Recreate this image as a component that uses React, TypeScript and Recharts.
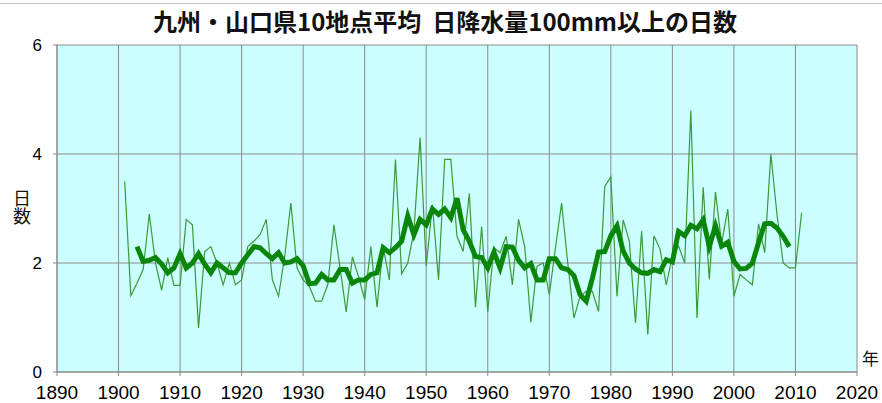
import { CartesianGrid, Line, LineChart, XAxis, YAxis } from "recharts";

const years: number[] = [];
for (let y = 1901; y <= 2011; y++) years.push(y);

// annual count, 1901-2011
const annual = [
  3.5, 1.4, 1.63, 1.88, 2.9, 2.0, 1.5, 2.1, 1.59, 1.59,
  2.8, 2.7, 0.81, 2.21, 2.3, 2.0, 1.6, 2.0, 1.6, 1.69,
  2.3, 2.4, 2.52, 2.8, 1.69, 1.39, 2.12, 3.1, 1.91, 1.69,
  1.57, 1.3, 1.3, 1.6, 2.7, 1.91, 1.1, 2.11, 1.75, 1.33,
  2.3, 1.19, 2.3, 1.69, 3.9, 1.8, 2.0, 2.58, 4.3, 1.94,
  3.07, 1.69, 3.9, 3.9, 2.49, 2.21, 3.28, 1.19, 2.67, 1.11,
  2.28, 2.19, 2.49, 1.6, 2.8, 2.3, 0.91, 1.94, 2.0, 1.42,
  2.28, 3.1, 2.0, 0.99, 1.39, 1.48, 1.48, 1.11, 3.4, 3.58,
  1.39, 2.79, 2.4, 0.9, 2.58, 0.69, 2.5, 2.25, 1.6, 2.12,
  2.31, 2.0, 4.8, 0.99, 3.39, 1.7, 3.3, 2.36, 2.99, 1.39,
  1.79, 1.69, 1.6, 2.72, 2.19, 4.0, 2.89, 2.0, 1.91, 1.91,
  2.92,
];

// 5-year moving average, 1903-2009
const movingAvg = [
  2.3, 2.03, 2.05, 2.1, 1.98, 1.82, 1.91, 2.17,
  1.91, 2.0, 2.17, 1.98, 1.82, 2.0, 1.91, 1.82, 1.82, 2.0,
  2.15, 2.3, 2.28, 2.17, 2.08, 2.19, 2.0, 2.02, 2.08, 1.95,
  1.62, 1.63, 1.79, 1.69, 1.69, 1.88, 1.88, 1.63, 1.69, 1.69,
  1.79, 1.82, 2.28, 2.19, 2.28, 2.4, 2.86, 2.52, 2.8, 2.7,
  2.99, 2.89, 2.99, 2.83, 3.19, 2.61, 2.4, 2.12, 2.1, 1.91,
  2.2, 1.91, 2.3, 2.29, 2.05, 1.91, 1.99, 1.69, 1.69, 2.08,
  2.08, 1.91, 1.88, 1.77, 1.42, 1.3, 1.72, 2.2, 2.21, 2.5,
  2.68, 2.22, 2.0, 1.89, 1.82, 1.81, 1.88, 1.84, 2.06, 2.02,
  2.58, 2.5, 2.69, 2.63, 2.79, 2.31, 2.68, 2.31, 2.38, 2.03,
  1.89, 1.9, 2.0, 2.37, 2.72, 2.73, 2.64, 2.49, 2.3,
];

const xTicks = [1890, 1900, 1910, 1920, 1930, 1940, 1950, 1960, 1970, 1980, 1990, 2000, 2010, 2020];
const yTicks = [0, 2, 4, 6];

const data = years.map((year, i) => ({
  year,
  annual: annual[i],
  avg: i >= 2 && i - 2 < movingAvg.length ? movingAvg[i - 2] : null,
}));

const tickFont = { fontFamily: "Liberation Sans, Arial, sans-serif", fill: "#000" };
const jpFont = "Noto Sans CJK JP, sans-serif";

export default function App() {
  return (
    <div style={{ position: "absolute", left: 0, top: 0, width: 882, height: 403, background: "#fff" }}>
      <div style={{ position: "absolute", left: 0, top: 3, width: 882, height: 1, background: "#c8c8c8" }} />
      <div
        style={{
          position: "absolute",
          left: 4,
          top: 4,
          width: 882,
          textAlign: "center",
          fontFamily: jpFont,
          fontWeight: 700,
          fontSize: 24,
          lineHeight: "34px",
          color: "#111",
        }}
      >
        九州・山口県10地点平均&nbsp;&nbsp;日降水量100mm以上の日数
      </div>
      <LineChart
        width={882}
        height={403}
        data={data}
        margin={{ top: 45, right: 25, bottom: 0, left: 0 }}
      >
        <CartesianGrid stroke="#8a8a8a" fill="#ccffff" fillOpacity={1} />
        <XAxis
          dataKey="year"
          type="number"
          domain={[1890, 2020]}
          ticks={xTicks}
          interval={0}
          height={31}
          stroke="#8a8a8a"
          tickSize={4}
          tickMargin={10}
          tick={{ ...tickFont, fontSize: 19 }}
        />
        <YAxis
          type="number"
          domain={[0, 6]}
          ticks={yTicks}
          interval={0}
          width={57}
          stroke="#8a8a8a"
          tickSize={4}
          tickMargin={11}
          tick={{ ...tickFont, fontSize: 17 }}
        />
        <Line
          type="linear"
          dataKey="annual"
          stroke="#3a9a3a"
          strokeWidth={1.2}
          dot={false}
          isAnimationActive={false}
        />
        <Line
          type="linear"
          dataKey="avg"
          stroke="#0a870a"
          strokeWidth={5}
          dot={false}
          isAnimationActive={false}
        />
      </LineChart>
      <div
        style={{
          position: "absolute",
          left: 12,
          top: 189,
          fontFamily: jpFont,
          fontSize: 18,
          lineHeight: "20px",
          writingMode: "vertical-rl",
          textOrientation: "upright",
          letterSpacing: 0,
          color: "#111",
        }}
      >
        日数
      </div>
      <div
        style={{
          position: "absolute",
          left: 862,
          top: 348,
          fontFamily: jpFont,
          fontSize: 17,
          lineHeight: "20px",
          color: "#111",
        }}
      >
        年
      </div>
    </div>
  );
}
